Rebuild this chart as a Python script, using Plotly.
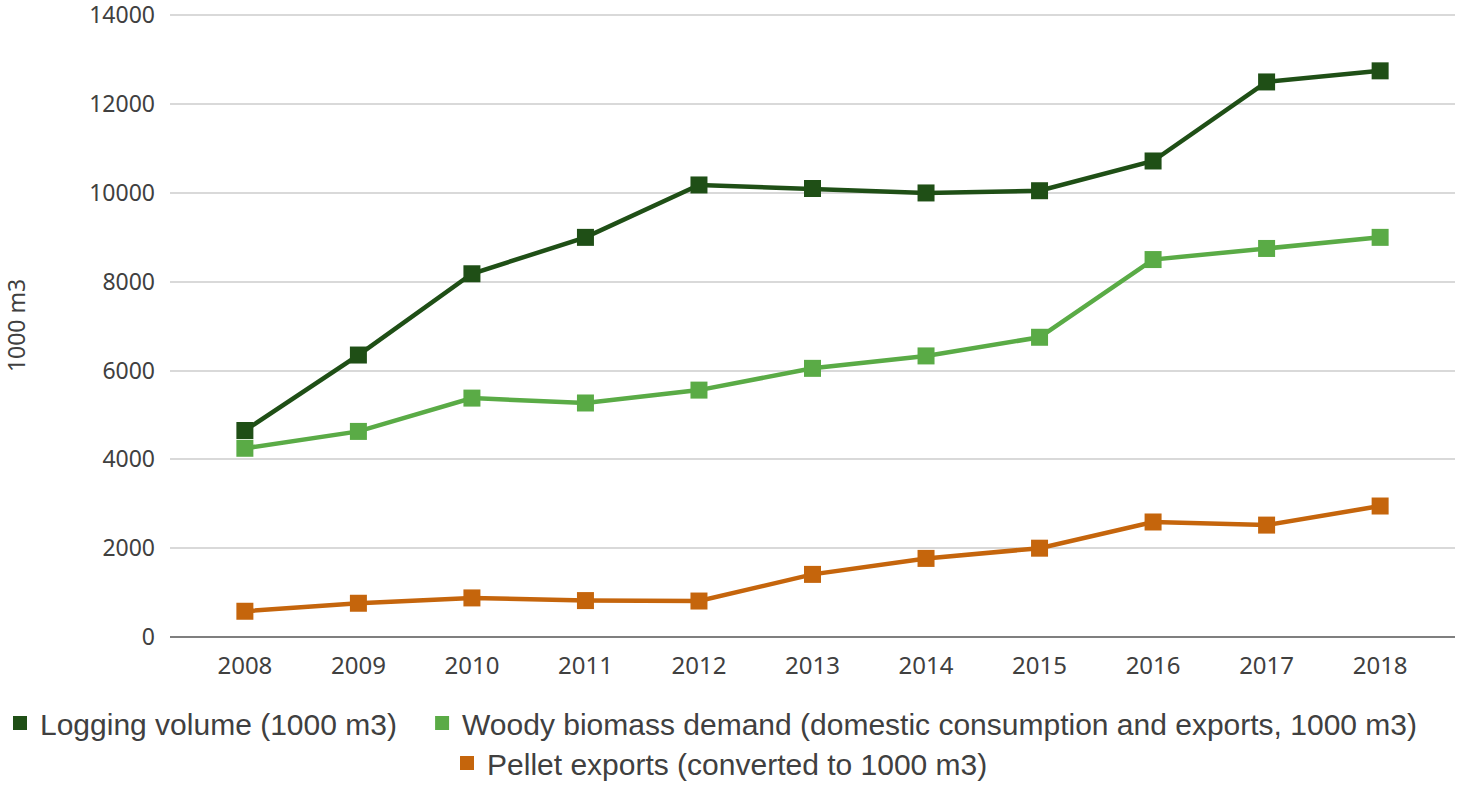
import plotly.graph_objects as go

years = ["2008", "2009", "2010", "2011", "2012", "2013", "2014", "2015", "2016", "2017", "2018"]
logging_volume = [4650, 6350, 8180, 9000, 10180, 10100, 10000, 10050, 10720, 12500, 12750]
woody_demand = [4250, 4630, 5380, 5270, 5560, 6050, 6330, 6750, 8500, 8750, 9000]
pellet_exports = [580, 760, 880, 820, 810, 1410, 1770, 2000, 2590, 2520, 2950]

names = ["Logging volume (1000 m3)",
         "Woody biomass demand (domestic consumption and exports, 1000 m3)",
         "Pellet exports (converted to 1000 m3)"]
colors = ["#1f4f16", "#5aab46", "#c5650c"]
series = [logging_volume, woody_demand, pellet_exports]
legends = ["legend", "legend2", "legend3"]

fig = go.Figure()
for i in [2, 1, 0]:
    fig.add_trace(go.Scatter(
        x=years, y=series[i], mode="lines+markers", name=names[i],
        line=dict(color=colors[i], width=4.5),
        marker=dict(symbol="square", size=17, color=colors[i]),
        showlegend=False, cliponaxis=False))
for i in range(3):
    fig.add_trace(go.Scatter(
        x=[None], y=[None], mode="markers", name=names[i],
        marker=dict(symbol="square", size=14, color=colors[i]),
        legend=legends[i]))

leg_common = dict(orientation="h", xref="container", yref="container",
                  xanchor="left", yanchor="middle",
                  font=dict(size=30, color="#404040"), bgcolor="rgba(0,0,0,0)")

fig.update_layout(
    width=1458, height=785,
    paper_bgcolor="white", plot_bgcolor="white",
    margin=dict(l=170, r=3, t=14, b=148, autoexpand=False),
    font=dict(family="Liberation Sans, Arial, sans-serif", color="#404040"),
    xaxis=dict(type="category", showgrid=False, showline=False, zeroline=False,
               tickfont=dict(family="Noto Sans, sans-serif", size=24, color="#404040"),
               ticks="", ticklabelstandoff=12, automargin=False),
    yaxis=dict(range=[0, 14030], tickvals=[0, 2000, 4000, 6000, 8000, 10000, 12000, 14000],
               tickformat="d", showgrid=True, gridcolor="#d9d9d9", gridwidth=2,
               zeroline=True, zerolinecolor="#7f7f7f", zerolinewidth=2, showline=False,
               tickfont=dict(family="Noto Sans, sans-serif", size=23, color="#404040"),
               ticklabelstandoff=14, ticklabeloverflow="allow", automargin=False,
               title=dict(text="1000 m3", font=dict(family="Noto Sans, sans-serif", size=23, color="#404040"),
                          standoff=57)),
    legend=dict(x=-0.005, y=0.079, **leg_common),
    legend2=dict(x=0.2895, y=0.079, **leg_common),
    legend3=dict(x=0.3066, y=0.028, **leg_common),
)

fig.write_html("out.html", config={"displayModeBar": False},
               post_script="document.body.style.margin='0';document.body.style.overflow='hidden';")
